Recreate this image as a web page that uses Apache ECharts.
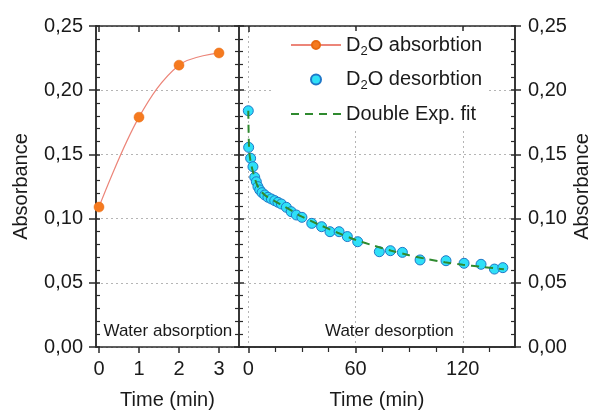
<!DOCTYPE html>
<html><head><meta charset="utf-8">
<script src="https://cdn.jsdelivr.net/npm/echarts@6/dist/echarts.min.js"></script>
<style>html,body{margin:0;padding:0;background:#fff}#c{width:593px;height:413px}</style>
</head><body><div id="c"></div>
<script>
// ---- data ----
const absTime = [0, 1, 2, 3];
const absValues = [0.109, 0.179, 0.2195, 0.229];
const desTime = [0, 0.2, 1.3, 2.6, 3.6, 4.5, 5.4, 6.4, 7.7, 9.2, 11, 12.9, 14.8, 16.6, 18.5, 21.3, 24, 26.9, 30, 35.5, 41, 45.7, 50.8, 55.4, 61.2, 73.3, 79.5, 86.2, 96.1, 110.6, 120.7, 130.2, 137.7, 142.4];
const desValues = [0.184, 0.1555, 0.147, 0.1404, 0.1322, 0.1287, 0.1249, 0.1223, 0.1202, 0.1184, 0.1166, 0.1153, 0.114, 0.1127, 0.1114, 0.1088, 0.1054, 0.1028, 0.101, 0.0963, 0.0937, 0.0898, 0.0898, 0.086, 0.082, 0.0742, 0.075, 0.0737, 0.0678, 0.0672, 0.0652, 0.0644, 0.0607, 0.0618];
const fitTime = [0, 0.3, 0.7, 1.5, 2.5, 3.5, 5, 7, 10, 15, 20, 25, 30, 40, 50, 60, 70, 80, 90, 100, 110, 120, 130, 140, 143];
const fitValues = [0.184, 0.160, 0.150, 0.143, 0.137, 0.132, 0.126, 0.1215, 0.1175, 0.1135, 0.1095, 0.1055, 0.1015, 0.095, 0.089, 0.0835, 0.079, 0.075, 0.0715, 0.0685, 0.066, 0.064, 0.0625, 0.061, 0.0605];
const leftTicks = [0, 1, 2, 3];
const rightMajorTicks = [0, 60, 120];
const rightMinorTicks = [15, 30, 45, 75, 90, 105, 135];
const seriesNames = ['D2O absorbtion', 'D2O desorbtion', 'Double Exp. fit'];
const panelLabels = ['Water absorption', 'Water desorption'];
const yName = 'Absorbance';
const xName = 'Time (min)';

const FONT = '"Liberation Sans", Arial, sans-serif';
const TXT = '#1a1a1a';
const AX = '#2a2a2a';
const fmtY = v => v.toFixed(2).replace('.', ',');
const zip = (a, b) => a.map((x, i) => [x, b[i]]);

const axLine = { show: true, onZero: false, lineStyle: { color: AX, width: 1.5 } };
const gridSplit = { show: true, lineStyle: { color: '#b5b5b5', type: [2, 3], width: 1 } };
const yBase = { type: 'value', min: 0, max: 0.25, interval: 0.05, axisLine: axLine };
const lblX = { color: TXT, fontSize: 20, fontFamily: FONT, margin: 12 };
const nameStyle = { color: TXT, fontSize: 20, fontFamily: FONT };

const chart = echarts.init(document.getElementById('c'), null, { renderer: 'canvas' });
chart.setOption({
  animation: false,
  backgroundColor: '#fff',
  textStyle: { fontFamily: FONT },
  grid: [
    { left: 96, top: 26, width: 143, height: 321, outerBoundsMode: 'none', containLabel: false },
    { left: 239, top: 26, width: 276, height: 321, outerBoundsMode: 'none', containLabel: false }
  ],
  xAxis: [
    { type: 'value', gridIndex: 0, position: 'bottom', min: -0.075, max: 3.5,
      axisLine: axLine, splitLine: { show: false },
      axisTick: { show: true, inside: false, length: 6, lineStyle: { color: AX, width: 1.5 }, customValues: leftTicks },
      axisLabel: Object.assign({ customValues: leftTicks }, lblX),
      name: xName, nameLocation: 'middle', nameGap: 43, nameTextStyle: nameStyle },
    { type: 'value', gridIndex: 0, position: 'top', min: -0.075, max: 3.5,
      axisLine: axLine, splitLine: { show: false }, axisLabel: { show: false },
      axisTick: { show: true, inside: true, length: 6, lineStyle: { color: AX, width: 1.5 }, customValues: leftTicks } },
    { type: 'value', gridIndex: 1, position: 'bottom', min: -5.2, max: 149.2,
      axisLine: axLine, splitLine: gridSplit,
      axisTick: { show: true, inside: false, length: 6, lineStyle: { color: AX, width: 1.5 }, customValues: rightMajorTicks },
      axisLabel: Object.assign({ customValues: rightMajorTicks }, lblX),
      name: xName, nameLocation: 'middle', nameGap: 43, nameTextStyle: nameStyle },
    { type: 'value', gridIndex: 1, position: 'bottom', min: -5.2, max: 149.2,
      axisLine: axLine, splitLine: { show: false }, axisLabel: { show: false },
      axisTick: { show: true, inside: false, length: 5, lineStyle: { color: AX, width: 1.2 }, customValues: rightMinorTicks } },
    { type: 'value', gridIndex: 1, position: 'top', min: -5.2, max: 149.2,
      axisLine: axLine, splitLine: { show: false }, axisLabel: { show: false },
      axisTick: { show: true, inside: true, length: 6, lineStyle: { color: AX, width: 1.5 }, customValues: rightMajorTicks } }
  ],
  yAxis: [
    Object.assign({}, yBase, { gridIndex: 0, position: 'left', splitLine: gridSplit,
      axisTick: { show: true, inside: false, length: 7, lineStyle: { color: AX, width: 1.5 } },
      axisLabel: { color: TXT, fontSize: 20, fontFamily: FONT, margin: 13, formatter: fmtY },
      name: yName, nameLocation: 'middle', nameGap: 65, nameTextStyle: nameStyle }),
    Object.assign({}, yBase, { gridIndex: 0, position: 'left', splitLine: { show: false }, axisLabel: { show: false },
      axisTick: { show: true, inside: true, length: 4, lineStyle: { color: AX, width: 1.5 } },
      minorTick: { show: true, splitNumber: 5, length: 4, lineStyle: { color: AX, width: 1.2 } } }),
    Object.assign({}, yBase, { gridIndex: 0, position: 'right', splitLine: { show: false }, axisLabel: { show: false },
      axisTick: { show: true, inside: true, length: 5, lineStyle: { color: AX, width: 1.5 } },
      minorTick: { show: true, splitNumber: 5, length: 4, lineStyle: { color: AX, width: 1.2 } } }),
    Object.assign({}, yBase, { gridIndex: 1, position: 'left', splitLine: gridSplit, axisLabel: { show: false },
      axisTick: { show: true, inside: true, length: 5, lineStyle: { color: AX, width: 1.5 } },
      minorTick: { show: true, splitNumber: 5, length: 4, lineStyle: { color: AX, width: 1.2 } } }),
    Object.assign({}, yBase, { gridIndex: 1, position: 'right', splitLine: { show: false },
      axisTick: { show: true, inside: false, length: 6, lineStyle: { color: AX, width: 1.5 } },
      axisLabel: { color: TXT, fontSize: 20, fontFamily: FONT, margin: 13, formatter: fmtY },
      name: yName, nameLocation: 'middle', nameGap: 57, nameRotate: 90, nameTextStyle: nameStyle }),
    Object.assign({}, yBase, { gridIndex: 1, position: 'right', splitLine: { show: false }, axisLabel: { show: false },
      axisTick: { show: true, inside: true, length: 4, lineStyle: { color: AX, width: 1.5 } },
      minorTick: { show: true, splitNumber: 5, length: 4, lineStyle: { color: AX, width: 1.2 } } })
  ],
  legend: {
    left: 272, top: 31, orient: 'vertical', align: 'left',
    backgroundColor: '#fff', padding: [4, 6, 6, 18],
    itemWidth: 50, itemHeight: 10, itemGap: 12,
    data: [
      { name: seriesNames[0] },
      { name: seriesNames[1] },
      { name: seriesNames[2], itemStyle: { opacity: 0 } }
    ],
    formatter: n => n.replace('D2O', 'D{sub|2}O'),
    textStyle: { color: TXT, fontSize: 20, fontFamily: FONT,
      rich: { sub: { fontSize: 13, fontFamily: FONT, color: TXT, padding: [12, 0, 0, 0] } } }
  },
  graphic: [
    { type: 'text', left: 96 + 71.5 - 64, top: 323, z: 10,
      style: { text: panelLabels[0], fontSize: 17, fontFamily: FONT, fill: TXT } },
    { type: 'text', left: 389 - 64, top: 323, z: 10,
      style: { text: panelLabels[1], fontSize: 17, fontFamily: FONT, fill: TXT } }
  ],
  series: [
    { name: seriesNames[0], type: 'line', xAxisIndex: 0, yAxisIndex: 0,
      data: zip(absTime, absValues), smooth: 0.35,
      symbol: 'circle', symbolSize: 10,
      lineStyle: { color: '#ec8579', width: 1.2 },
      itemStyle: { color: '#f57a1f', borderColor: '#e86a10', borderWidth: 0.5 } },
    { name: seriesNames[1], type: 'scatter', xAxisIndex: 2, yAxisIndex: 3,
      data: zip(desTime, desValues), symbol: 'circle', symbolSize: 10, z: 3,
      itemStyle: { color: '#2fe0f7', borderColor: '#1f78c8', borderWidth: 1, opacity: 1 } },
    { name: seriesNames[2], type: 'line', xAxisIndex: 2, yAxisIndex: 3,
      data: zip(fitTime, fitValues), smooth: 0.3, symbol: 'none', z: 4,
      lineStyle: { color: '#2f8a2f', width: 2, type: [8, 6] },
      itemStyle: { color: '#2f8a2f' } }
  ]
});
</script></body></html>
